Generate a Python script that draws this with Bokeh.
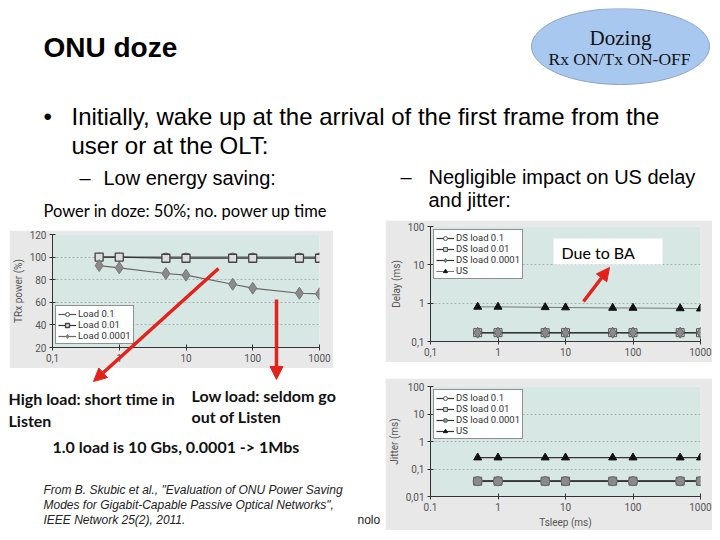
from bokeh.plotting import figure
from bokeh.models import Range1d, FixedTicker, Legend, LegendItem, Arrow, NormalHead, GridBox
from bokeh.embed import file_html
from bokeh.resources import INLINE
from bokeh.core.properties import value

# ---------------- data ----------------
tsleep = [0.5, 1, 5, 10, 50, 100, 500, 1000]

power_load_0_1 = [100, 100, 100, 100, 100, 100, 100, 100]
power_load_0_01 = [100, 100, 99, 99, 99, 99, 99, 99]
power_load_0_0001 = [92.5, 90.5, 85.5, 84, 76, 72.5, 68, 67.5]

delay_ds_0_1 = [0.17, 0.17, 0.17, 0.17, 0.17, 0.17, 0.17, 0.17]
delay_ds_0_01 = [0.17, 0.17, 0.17, 0.17, 0.17, 0.17, 0.17, 0.17]
delay_ds_0_0001 = [0.17, 0.17, 0.17, 0.17, 0.17, 0.17, 0.17, 0.17]
delay_us = [0.8, 0.8, 0.78, 0.77, 0.75, 0.75, 0.73, 0.72]

jitter_ds_0_1 = [0.036, 0.036, 0.036, 0.036, 0.036, 0.036, 0.036, 0.036]
jitter_ds_0_01 = [0.036, 0.036, 0.036, 0.036, 0.036, 0.036, 0.036, 0.036]
jitter_ds_0_0001 = [0.036, 0.036, 0.036, 0.036, 0.036, 0.036, 0.036, 0.036]
jitter_us = [0.26, 0.26, 0.26, 0.26, 0.26, 0.26, 0.26, 0.26]

x_ticks = [0.1, 1, 10, 100, 1000]
x_tick_labels = ["0,1", "1", "10", "100", "1000"]
x_tick_labels_jitter = ["0.1", "1", "10", "100", "1000"]
power_ticks = [20, 40, 60, 80, 100, 120]
delay_ticks = [0.1, 1, 10, 100]
delay_tick_labels = ["0,1", "1", "10", "100"]
jitter_ticks = [0.01, 0.1, 1, 10, 100]
jitter_tick_labels = ["0,01", "0,1", "1", "10", "100"]

ARIAL = value("Liberation Sans")
CALIBRI = value("Lato")
SERIF = value("Liberation Serif")
CHART_FONT = "Roboto"
RED = "#e3221c"


def style_chart(p):
    p.background_fill_color = "#d6e7e4"
    p.border_fill_color = "#e8e8e8"
    p.outline_line_color = None
    p.xgrid.visible = False
    p.ygrid.grid_line_color = "#a9b4b2"
    p.ygrid.grid_line_dash = "2 2"
    for ax in p.axis:
        ax.axis_line_color = "#333333"
        ax.major_tick_line_color = "#333333"
        ax.major_tick_in = 3
        ax.major_tick_out = 3
        ax.minor_tick_line_color = None
        ax.major_label_text_font = CHART_FONT
        ax.major_label_text_font_size = "10px"
        ax.major_label_text_color = "#555555"
        ax.major_label_standoff = 3
        ax.axis_label_text_font = CHART_FONT
        ax.axis_label_text_font_size = "10px"
        ax.axis_label_text_font_style = "normal"
        ax.axis_label_text_color = "#555555"
        ax.axis_label_standoff = 3


def style_legend(lg):
    lg.label_text_font = CHART_FONT
    lg.label_text_font_size = "9.5px"
    lg.label_text_color = "#333333"
    lg.glyph_width = 18
    lg.glyph_height = 10
    lg.label_height = 10
    lg.label_standoff = 2
    lg.spacing = 0
    lg.padding = 2
    lg.margin = 3
    lg.border_line_color = "#222222"
    lg.background_fill_color = "white"
    lg.background_fill_alpha = 0.95


def x_axis_setup(p, labels):
    p.xaxis.ticker = FixedTicker(ticks=x_ticks)
    p.xaxis.major_label_overrides = {t: l for t, l in zip(x_ticks, labels)}


# ---------------- chart 1: TRx power ----------------
c1 = figure(width=324, height=138, x_axis_type="log", x_range=Range1d(0.1, 1000),
            y_range=Range1d(20, 120), output_backend="svg", toolbar_location=None,
            min_border_left=40, min_border_right=14, min_border_top=4, min_border_bottom=16)
style_chart(c1)
x_axis_setup(c1, x_tick_labels)
c1.yaxis.ticker = FixedTicker(ticks=power_ticks)
c1.yaxis.axis_label = "TRx power (%)"

r1l = c1.line(tsleep, power_load_0_1, line_color="#555555", line_width=1.2)
r1s = c1.scatter(tsleep, power_load_0_1, marker="circle", size=8, fill_color="white", line_color="#555555")
r2l = c1.line(tsleep, power_load_0_01, line_color="#333333", line_width=1.2)
r2s = c1.scatter(tsleep, power_load_0_01, marker="square", size=8, fill_color="#dddddd", line_color="#444444", line_width=1.3)
r3l = c1.line(tsleep, power_load_0_0001, line_color="#666666", line_width=1.2)
r3s = c1.scatter(tsleep, power_load_0_0001, marker="diamond", size=12, fill_color="#8a8a8a", line_color="#777777")
lg1 = Legend(items=[LegendItem(label="Load 0.1", renderers=[r1l, r1s]),
                    LegendItem(label="Load 0.01", renderers=[r2l, r2s]),
                    LegendItem(label="Load 0.0001", renderers=[r3l, r3s])],
             location="bottom_left")
style_legend(lg1)
c1.add_layout(lg1)

# ---------------- chart 2: Delay ----------------
c2 = figure(width=327, height=142, x_axis_type="log", y_axis_type="log",
            x_range=Range1d(0.1, 1000), y_range=Range1d(0.1, 100),
            output_backend="svg", toolbar_location=None,
            min_border_left=42, min_border_right=11, min_border_top=6, min_border_bottom=21)
style_chart(c2)
x_axis_setup(c2, x_tick_labels)
c2.yaxis.ticker = FixedTicker(ticks=delay_ticks)
c2.yaxis.major_label_overrides = {t: l for t, l in zip(delay_ticks, delay_tick_labels)}
c2.yaxis.axis_label = "Delay (ms)"

d1l = c2.line(tsleep, delay_ds_0_1, line_color="#333333", line_width=1.2)
d1s = c2.scatter(tsleep, delay_ds_0_1, marker="circle", size=8, fill_color="white", line_color="#555555")
d2l = c2.line(tsleep, delay_ds_0_01, line_color="#333333", line_width=1.2)
d2s = c2.scatter(tsleep, delay_ds_0_01, marker="square", size=8, fill_color="#d0d0d0", line_color="#555555")
d3l = c2.line(tsleep, delay_ds_0_0001, line_color="#333333", line_width=1.2)
d3s = c2.scatter(tsleep, delay_ds_0_0001, marker="diamond", size=11, fill_color="#8a8a8a", line_color="#666666")
d4l = c2.line(tsleep, delay_us, line_color="#777777", line_width=1)
d4s = c2.scatter(tsleep, delay_us, marker="triangle", size=8, fill_color="#111111", line_color="#111111")
lg2 = Legend(items=[LegendItem(label="DS load 0.1", renderers=[d1l, d1s]),
                    LegendItem(label="DS load 0.01", renderers=[d2l, d2s]),
                    LegendItem(label="DS load 0.0001", renderers=[d3l, d3s]),
                    LegendItem(label="US", renderers=[d4l, d4s])],
             location="top_left")
style_legend(lg2)
c2.add_layout(lg2)

# ---------------- chart 3: Jitter ----------------
c3 = figure(width=327, height=152, x_axis_type="log", y_axis_type="log",
            x_range=Range1d(0.1, 1000), y_range=Range1d(0.01, 100),
            output_backend="svg", toolbar_location=None,
            min_border_left=38, min_border_right=12, min_border_top=8, min_border_bottom=30)
style_chart(c3)
x_axis_setup(c3, x_tick_labels_jitter)
c3.yaxis.ticker = FixedTicker(ticks=jitter_ticks)
c3.yaxis.major_label_overrides = {t: l for t, l in zip(jitter_ticks, jitter_tick_labels)}
c3.yaxis.axis_label = "Jitter (ms)"
c3.xaxis.axis_label = "Tsleep (ms)"

j1l = c3.line(tsleep, jitter_ds_0_1, line_color="#333333", line_width=1.2)
j1s = c3.scatter(tsleep, jitter_ds_0_1, marker="circle", size=8, fill_color="white", line_color="#555555")
j2l = c3.line(tsleep, jitter_ds_0_01, line_color="#333333", line_width=1.2)
j2s = c3.scatter(tsleep, jitter_ds_0_01, marker="square", size=8, fill_color="#d0d0d0", line_color="#555555")
j3l = c3.line(tsleep, jitter_ds_0_0001, line_color="#333333", line_width=1.2)
j3s = c3.scatter(tsleep, jitter_ds_0_0001, marker="circle", size=9, fill_color="#8a8a8a", line_color="#666666")
j4l = c3.line(tsleep, jitter_us, line_color="#333333", line_width=1.2)
j4s = c3.scatter(tsleep, jitter_us, marker="triangle", size=8, fill_color="#111111", line_color="#111111")
lg3 = Legend(items=[LegendItem(label="DS load 0.1", renderers=[j1l, j1s]),
                    LegendItem(label="DS load 0.01", renderers=[j2l, j2s]),
                    LegendItem(label="DS load 0.0001", renderers=[j3l, j3s]),
                    LegendItem(label="US", renderers=[j4l, j4s])],
             location="top_left")
style_legend(lg3)
c3.add_layout(lg3)

# ---------------- slide overlay (data units = page pixels) ----------------
ov = figure(width=704, height=522, frame_width=704, frame_height=522,
            x_range=Range1d(8, 712), y_range=Range1d(530, 8),
            x_axis_type=None, y_axis_type=None, output_backend="svg", toolbar_location=None,
            min_border=0, min_border_left=0, min_border_right=0, min_border_top=0, min_border_bottom=0)
ov.title.visible = False
ov.styles = {"z-index": "5"}
ov.grid.visible = False
ov.outline_line_color = None
ov.background_fill_alpha = 0
ov.border_fill_alpha = 0

MID = "middle"

# oval badge
ov.ellipse(x=620, y=46, width=178, height=76, fill_color="#a8c8f0", line_color="#8aa3c4", line_width=1)
ov.text(x=[620], y=[37], text=["Dozing"], text_font=SERIF, text_font_size="21px",
        text_align="center", text_baseline=MID, text_color="#111111")
ov.text(x=[619], y=[58], text=["Rx ON/Tx ON-OFF"], text_font=SERIF, text_font_size="17.5px",
        text_align="center", text_baseline=MID, text_color="#111111")

# title
ov.text(x=[43], y=[47], text=["ONU doze"], text_font=ARIAL, text_font_size="28px",
        text_font_style="bold", text_baseline=MID, text_color="black")

# bullets
ov.text(x=[43], y=[116], text=["\u2022"], text_font=ARIAL, text_font_size="24px", text_baseline=MID)
ov.text(x=[71, 71], y=[116, 145],
        text=["Initially, wake up at the arrival of the first frame from the", "user or at the OLT:"],
        text_font=ARIAL, text_font_size="24px", text_baseline=MID, text_color="black")
ov.text(x=[79, 400], y=[177, 176], text=["\u2013", "\u2013"],
        text_font=ARIAL, text_font_size="20px", text_baseline=MID, text_color="black")
ov.text(x=[103, 428, 428], y=[177, 176, 199],
        text=["Low energy saving:", "Negligible impact on US delay", "and jitter:"],
        text_font=ARIAL, text_font_size="20px", text_baseline=MID, text_color="black")
ov.text(x=[43], y=[210], text=["Power in doze: 50%; no. power up time"],
        text_font=CALIBRI, text_font_size="16.5px", text_baseline=MID, text_color="black")

# annotations below charts
ov.text(x=[8, 8], y=[398, 420], text=["High load: short time in", "Listen"],
        text_font=CALIBRI, text_font_size="16px", text_font_style="bold", text_baseline=MID,
        text_color="#111111")
ov.text(x=[191, 191], y=[395, 416], text=["Low load: seldom go", "out of Listen"],
        text_font=CALIBRI, text_font_size="16px", text_font_style="bold", text_baseline=MID,
        text_color="#111111")
ov.text(x=[52], y=[446], text=["1.0 load is 10 Gbs, 0.0001 -> 1Mbs"],
        text_font=CALIBRI, text_font_size="16px", text_font_style="bold", text_baseline=MID,
        text_color="#111111")
ov.text(x=[43, 43, 43], y=[489, 504, 519],
        text=["From  B. Skubic et al., \"Evaluation of ONU Power Saving",
              "Modes for Gigabit-Capable Passive Optical Networks\",",
              "IEEE Network 25(2), 2011."],
        text_font=ARIAL, text_font_size="12px", text_font_style="italic", text_baseline=MID,
        text_color="#222222")
ov.text(x=[357], y=[519], text=["nolo"], text_font=ARIAL, text_font_size="12px",
        text_baseline=MID, text_color="#222222")

# "Due to BA" label box
ov.quad(left=553, right=662, top=238, bottom=264, fill_color="white", line_color=None)
ov.text(x=[561], y=[252], text=["Due to BA"], text_font=CALIBRI, text_font_size="16px",
        text_baseline=MID, text_color="black")

# red arrows
for xs, ys, xe, ye in [(218, 268, 93, 381), (276, 299, 276, 379), (583, 301, 609, 267)]:
    ov.add_layout(Arrow(x_start=xs, y_start=ys, x_end=xe, y_end=ye, line_color=RED, line_width=3.5,
                        end=NormalHead(size=13, fill_color=RED, line_color=RED)))

# grid tracks: columns start at page x 0, 8, 9, 385; rows start at page y 0, 8, 220, 230, 378
layout = GridBox(
    children=[(c2, 2, 3, 2, 1), (c1, 3, 2, 1, 1), (c3, 4, 3, 1, 1), (ov, 1, 1, 4, 3)],
    cols=["8px", "1px", "376px", "327px"],
    rows=["8px", "212px", "10px", "148px", "152px"],
    spacing=0,
)
open("out.html", "w").write(file_html(layout, INLINE))
